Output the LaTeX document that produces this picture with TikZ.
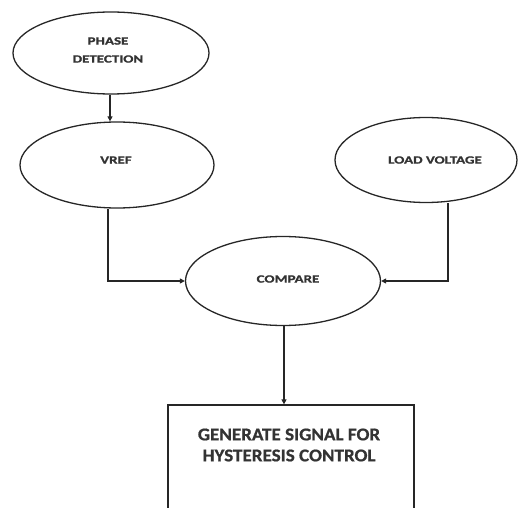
\documentclass[tikz,border=0pt]{standalone}
\usepackage{fontspec}
\setmainfont{Carlito}
\newfontfamily\ovalfont[FakeStretch=1.36,FakeBold=1.2]{Carlito Bold}
\newfontfamily\boxfont[FakeStretch=1.06,FakeBold=0.8]{Carlito Bold}
\usetikzlibrary{shapes.geometric,arrows.meta}
\begin{document}
\begin{tikzpicture}[x=1pt,y=1pt,
  oval/.style={draw=black!85, line width=1.3pt, ellipse, inner sep=0pt},
  ovaltext/.style={font=\ovalfont\fontsize{11}{18}\selectfont, text=black!80, align=center, inner sep=0pt},
  boxst/.style={draw=black!85, line width=1.3pt, rectangle, inner sep=0pt},
  link/.style={draw=black!85, line width=1.3pt, -{Triangle[length=5pt,width=5pt]}},
  lbl/.style={font=\boxfont\fontsize{18}{21}\selectfont, text=black!80, align=center, inner sep=0pt}]
\useasboundingbox (0,0) rectangle (525,507);
\clip (0,0) rectangle (525,507);
\node[oval, minimum width=196, minimum height=82] (phase) at (111,454) {};
\node[ovaltext] (phasetext) at (108,457) {PHASE\\DETECTION};
\node[oval, minimum width=194, minimum height=86] (vref) at (117,342) {};
\node[ovaltext] (vreftext) at (116,347) {VREF};
\node[oval, minimum width=182, minimum height=85] (load) at (426,347) {};
\node[ovaltext] (loadtext) at (435,347) {LOAD VOLTAGE};
\node[oval, minimum width=195, minimum height=89] (cmp) at (283,226) {};
\node[ovaltext] (cmptext) at (288,228) {COMPARE};
\node[boxst, minimum width=246, minimum height=130] (box) at (291,37) {};
\node[lbl] (boxtext) at (289,62) {GENERATE SIGNAL FOR\\HYSTERESIS CONTROL};
\draw[link] (110,0 |- phase.south) -- (110,0 |- vref.north);
\draw[link] (108,0 |- vref.south) |- (cmp.west);
\draw[link] (448,0 |- load.south) |- (cmp.east);
\draw[link] (284,0 |- cmp.south) -- (284,0 |- box.north);
\end{tikzpicture}
\end{document}
